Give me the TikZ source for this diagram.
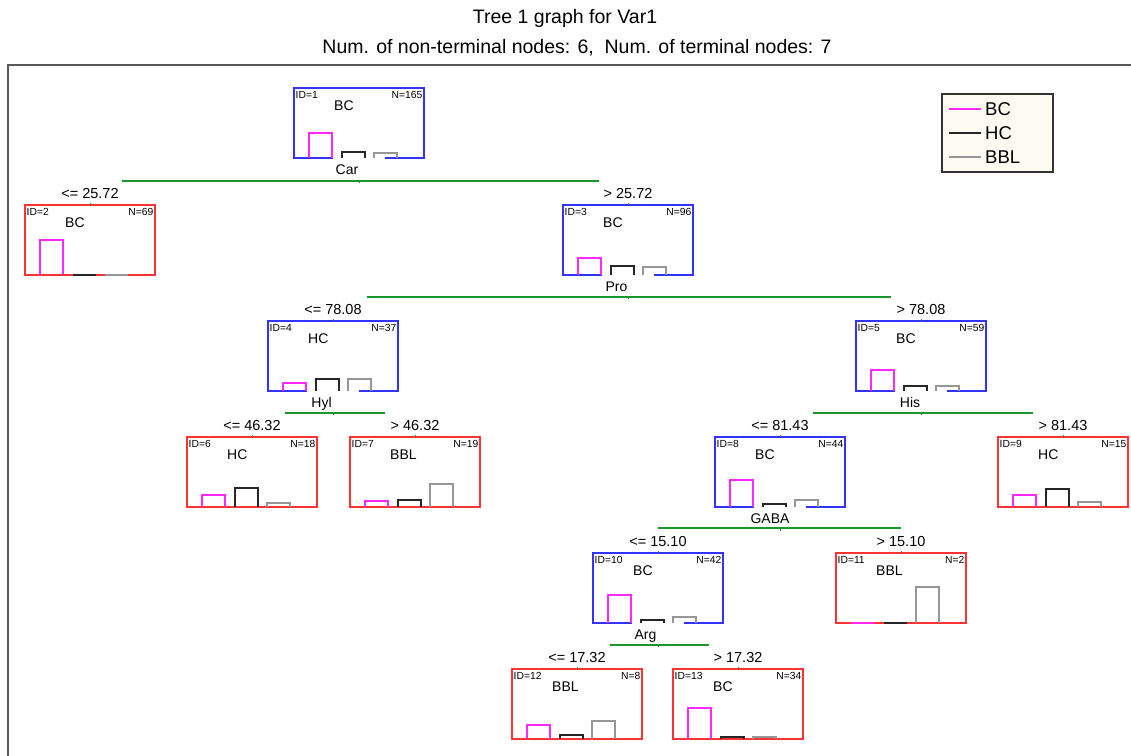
\documentclass[tikz,border=0pt]{standalone}
\usepackage{fontspec}
\setmainfont{Liberation Sans}
\usetikzlibrary{calc}

\definecolor{nodeblue}{RGB}{51,51,255}
\definecolor{nodered}{RGB}{255,51,51}
\definecolor{splitgreen}{RGB}{25,150,45}
\definecolor{barpink}{RGB}{255,40,255}
\definecolor{bargray}{RGB}{150,150,150}
\definecolor{legendbg}{RGB}{253,251,242}

% box of a tree node: name, colour, x, y, ID, class, N
\newcommand{\treenode}[7]{%
  \node[treebox, draw=#2] (#1) at (#3,#4) {};
  \node[idtext, anchor=north west] (#1id) at (#1.north west) {ID=#5};
  \node[idtext, anchor=north east] (#1n) at (#1.north east) {N=#7};
  \node[classtext, anchor=west] (#1cls) at ($(#1.north)+(-25,18)$) {#6};}

% the three class bars of a node: name, BC, HC, BBL heights
\newcommand{\treebars}[4]{%
  \draw[histline, barpink] ($(#1.south west)+(15,0)$) -- ++(0,-#2) -- ++(23,0) -- ++(0,#2);
  \draw[histline, black!85] ($(#1.south west)+(48,0)$) -- ++(0,-#3) -- ++(23,0) -- ++(0,#3);
  \draw[histline, bargray] ($(#1.south west)+(80,0)$) -- ++(0,-#4) -- ++(23,0) -- ++(0,#4);}

\begin{document}
\begin{tikzpicture}[
    x=1pt, y=-1pt,
    treebox/.style={rectangle, minimum width=130pt, minimum height=70pt,
      inner sep=0pt, outer sep=0pt, line width=1.6pt},
    idtext/.style={font=\fontsize{10.3}{12}\selectfont, inner xsep=1.5pt, inner ysep=3pt},
    classtext/.style={font=\fontsize{14}{16}\selectfont, inner sep=0pt},
    cuttext/.style={font=\fontsize{14.5}{17}\selectfont, anchor=base, inner sep=0pt},
    vartext/.style={font=\fontsize{14}{16}\selectfont, anchor=base, inner sep=0pt},
    titletext/.style={font=\fontsize{19.5}{22}\selectfont, inner sep=0pt},
    legtext/.style={font=\fontsize{18.5}{20}\selectfont, inner sep=0pt},
    splitline/.style={draw=splitgreen, line width=2pt},
    histline/.style={line width=1.3pt}
]
    \useasboundingbox (0,0) rectangle (1131,755);
    \clip (0,0) rectangle (1131,755);

    % titles and frame
    \node[titletext] (title) at (565,18) {Tree 1 graph for Var1};
    \node[titletext] (subtitle) at (577,48) {Num. of non-terminal nodes: 6,\ \ Num. of terminal nodes: 7};
    \draw[black!65, line width=1.8pt] (8,65) rectangle (1145,770);

    % nodes
    \treenode{n1}{nodeblue}{359}{123}{1}{BC}{165}
    \treenode{n2}{nodered}{90}{240}{2}{BC}{69}
    \treenode{n3}{nodeblue}{628}{240}{3}{BC}{96}
    \treenode{n4}{nodeblue}{333}{356}{4}{HC}{37}
    \treenode{n5}{nodeblue}{921}{356}{5}{BC}{59}
    \treenode{n6}{nodered}{252}{472}{6}{HC}{18}
    \treenode{n7}{nodered}{415}{472}{7}{BBL}{19}
    \treenode{n8}{nodeblue}{780}{472}{8}{BC}{44}
    \treenode{n9}{nodered}{1063}{472}{9}{HC}{15}
    \treenode{n10}{nodeblue}{658}{588}{10}{BC}{42}
    \treenode{n11}{nodered}{901}{588}{11}{BBL}{2}
    \treenode{n12}{nodered}{577}{704}{12}{BBL}{8}
    \treenode{n13}{nodered}{738}{704}{13}{BC}{34}

    \foreach \n in {n1,n3,n4,n5,n8,n10}
        \draw[white, line width=1.8pt] ($(\n.south west)+(39,0)$) -- ++(52,0);

    \treebars{n1}{25}{6}{5}
    \treebars{n2}{35}{0}{0}
    \treebars{n3}{17}{9}{8}
    \treebars{n4}{8}{12}{12}
    \treebars{n5}{21}{5}{5}
    \treebars{n6}{12}{19}{4}
    \treebars{n7}{6}{7}{23}
    \treebars{n8}{27}{3}{7}
    \treebars{n9}{12}{18}{5}
    \treebars{n10}{28}{3}{6}
    \treebars{n11}{0}{0}{36}
    \treebars{n12}{14}{4}{18}
    \treebars{n13}{31}{2}{2}

    % splits
    \draw[splitline] ([xshift=32pt,yshift=24pt]n2.north) -- ([xshift=-29.5pt,yshift=24pt]n3.north);
    \draw[splitline] ([xshift=34pt,yshift=24pt]n4.north) -- ([xshift=-30.5pt,yshift=24pt]n5.north);
    \draw[splitline] ([xshift=32.5pt,yshift=24pt]n6.north) -- ([xshift=-30pt,yshift=24pt]n7.north);
    \draw[splitline] ([xshift=32.5pt,yshift=24pt]n8.north) -- ([xshift=-30pt,yshift=24pt]n9.north);
    \draw[splitline] ([yshift=25pt]n10.north) -- ([yshift=25pt]n11.north);
    \draw[splitline] ([xshift=32.5pt,yshift=24pt]n12.north) -- ([xshift=-29pt,yshift=24pt]n13.north);
    \foreach \p/\c in {n1/n2,n3/n4,n4/n6,n5/n8,n8/n10,n10/n12}
        \draw[splitline, line width=1pt] (\p.south |- \c.north) ++(0,-24) -- ++(0,2);
    \foreach \c in {n2,n3,n4,n5,n6,n7,n8,n9,n10,n11,n12,n13}
        \draw[splitline, line width=1pt] (\c.north) -- ++(0,-2);

    \node[vartext] (v1) at ($(n1.south)+(-12,16.5)$) {Car};
    \node[vartext] (v3) at ($(n3.south)+(-11.5,16.5)$) {Pro};
    \node[vartext] (v4) at ($(n4.south)+(-11.5,16.5)$) {Hyl};
    \node[vartext] (v5) at ($(n5.south)+(-11,16.5)$) {His};
    \node[vartext] (v8) at ($(n8.south)+(-10,16.5)$) {GABA};
    \node[vartext] (v10) at ($(n10.south)+(-12.5,16.5)$) {Arg};

    \node[cuttext] (c2) at ($(n2.north)+(0,-6.5)$) {<= 25.72};
    \node[cuttext] (c3) at ($(n3.north)+(0,-6.5)$) {> 25.72};
    \node[cuttext] (c4) at ($(n4.north)+(0,-6.5)$) {<= 78.08};
    \node[cuttext] (c5) at ($(n5.north)+(0,-6.5)$) {> 78.08};
    \node[cuttext] (c6) at ($(n6.north)+(0,-6.5)$) {<= 46.32};
    \node[cuttext] (c7) at ($(n7.north)+(0,-6.5)$) {> 46.32};
    \node[cuttext] (c8) at ($(n8.north)+(0,-6.5)$) {<= 81.43};
    \node[cuttext] (c9) at ($(n9.north)+(0,-6.5)$) {> 81.43};
    \node[cuttext] (c10) at ($(n10.north)+(0,-6.5)$) {<= 15.10};
    \node[cuttext] (c11) at ($(n11.north)+(0,-6.5)$) {> 15.10};
    \node[cuttext] (c12) at ($(n12.north)+(0,-6.5)$) {<= 17.32};
    \node[cuttext] (c13) at ($(n13.north)+(0,-6.5)$) {> 17.32};

    % legend
    \node[draw=black!80, fill=legendbg, line width=1.2pt, minimum width=111pt,
        minimum height=78pt, inner sep=0pt] (legend) at (997.5,133) {};
    \draw[barpink, line width=1.4pt] (949,109) -- (981,109);
    \draw[black!85, line width=1.4pt] (949,133) -- (981,133);
    \draw[bargray, line width=1.4pt] (949,157) -- (981,157);
    \node[legtext, anchor=west] (lbc) at (985,109) {BC};
    \node[legtext, anchor=west] (lhc) at (985,133) {HC};
    \node[legtext, anchor=west] (lbbl) at (985,157) {BBL};
\end{tikzpicture}
\end{document}
